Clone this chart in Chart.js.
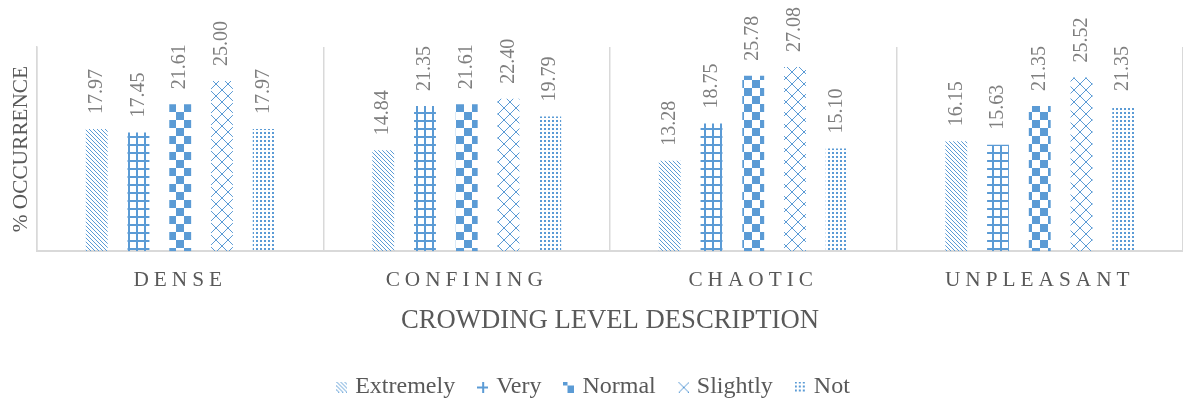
<!DOCTYPE html>
<html>
<head>
<meta charset="utf-8">
<title>Crowding level description</title>
<script src="https://cdn.jsdelivr.net/npm/chart.js@4.4.1/dist/chart.umd.min.js"></script>
<style>
  html, body { margin: 0; padding: 0; background: #ffffff; overflow: hidden; }
  canvas { display: block; }
</style>
</head>
<body>
<canvas id="chart" width="1183" height="402"></canvas>
<script>
// Categories on the x axis
const categories = ['DENSE', 'CONFINING', 'CHAOTIC', 'UNPLEASANT'];

// Series (crowding level), values in % occurrence per category
const seriesNames = ['Extremely', 'Very', 'Normal', 'Slightly', 'Not'];
const extremelyValues = [17.97, 14.84, 13.28, 16.15];
const veryValues      = [17.45, 21.35, 18.75, 15.63];
const normalValues    = [21.61, 21.61, 25.78, 21.35];
const slightlyValues  = [25.00, 22.40, 27.08, 25.52];
const notValues       = [17.97, 19.79, 15.10, 21.35];

// Axis text
const xAxisTitle = 'CROWDING LEVEL DESCRIPTION';
const yAxisTitle = '% OCCURRENCE';
const yMin = 0;
const yMax = 30;

const seriesValues = [extremelyValues, veryValues, normalValues, slightlyValues, notValues];

const SERIF = '"Liberation Serif", "Times New Roman", Times, serif';
const BLUE = '#5b9bd5';
const TEXT = '#595959';
const LABEL = '#7f7f7f';
const RULE = '#d9d9d9';

Chart.defaults.font.family = SERIF;

const canvas = document.getElementById('chart');
const ctx = canvas.getContext('2d');

// Repeating hatch tile
function hatchTile(w, h, paint) {
  const tile = document.createElement('canvas');
  tile.width = w;
  tile.height = h;
  const g = tile.getContext('2d');
  g.fillStyle = BLUE;
  paint(g, w, h);
  return tile;
}

const tiles = [
  // downward diagonal stripes
  hatchTile(4, 4, (g, w) => { for (let i = 0; i < w; i++) g.fillRect(i, i, 1, 1); }),
  // square grid
  hatchTile(8, 8, (g, w, h) => { g.fillRect(0, 0, w, 2); g.fillRect(0, 0, 2, h); }),
  // checkerboard
  hatchTile(16, 16, (g) => { g.fillRect(0, 0, 8, 8); g.fillRect(8, 8, 8, 8); }),
  // diamond lattice
  hatchTile(12, 12, (g, w) => {
    for (let i = 0; i < w; i++) { g.fillRect(i, i, 1, 1); g.fillRect(w - 1 - i, i, 1, 1); }
  }),
  // dotted grid
  hatchTile(4, 4, (g) => { g.fillRect(0, 0, 2, 2); })
];

const fills = tiles.map(t => ctx.createPattern(t, 'repeat'));

// Small legend swatches cut from each hatch
const swatchOffsets = [[0, 0], [3, 3], [4, 4], [0, 0], [0, 0]];
const swatches = tiles.map((t, i) => {
  const s = document.createElement('canvas');
  s.width = 11;
  s.height = 11;
  const g = s.getContext('2d');
  const p = g.createPattern(t, 'repeat');
  g.translate(-swatchOffsets[i][0], -swatchOffsets[i][1]);
  g.fillStyle = p;
  g.fillRect(swatchOffsets[i][0], swatchOffsets[i][1], 11, 11);
  return s;
});

// Rotated value labels above each bar
const valueLabels = {
  id: 'valueLabels',
  afterDatasetsDraw(chart) {
    const c = chart.ctx;
    c.save();
    c.font = '20px ' + SERIF;
    c.fillStyle = LABEL;
    c.textAlign = 'left';
    c.textBaseline = 'middle';
    chart.data.datasets.forEach((ds, di) => {
      chart.getDatasetMeta(di).data.forEach((bar, i) => {
        c.save();
        c.translate(bar.x, bar.y - 15);
        c.rotate(-Math.PI / 2);
        c.fillText(ds.data[i].toFixed(2), 0, 0);
        c.restore();
      });
    });
    c.restore();
  }
};

// Letter-spaced category labels on the x axis
const spacedTicks = {
  id: 'spacedTicks',
  beforeDraw(chart) {
    const s = chart.scales.x;
    if (s && !s._spaced) {
      const base = s.drawLabels;
      s.drawLabels = function (area) {
        this.ctx.save();
        this.ctx.letterSpacing = '5px';
        base.call(this, area);
        this.ctx.restore();
      };
      s._spaced = true;
    }
  }
};

new Chart(ctx, {
  type: 'bar',
  data: {
    labels: categories,
    datasets: seriesNames.map((name, i) => ({
      label: name,
      data: seriesValues[i],
      backgroundColor: fills[i],
      pointStyle: swatches[i],
      borderWidth: 0,
      categoryPercentage: 0.7285,
      barPercentage: 0.524
    }))
  },
  options: {
    responsive: false,
    animation: false,
    events: [],
    layout: { padding: { top: 47, left: 0, right: -7, bottom: -7 } },
    plugins: {
      legend: {
        position: 'bottom',
        labels: {
          font: { size: 24 },
          color: TEXT,
          usePointStyle: true,
          pointStyleWidth: 3,
          boxHeight: 11,
          padding: 26
        }
      },
      tooltip: { enabled: false }
    },
    scales: {
      x: {
        grid: { color: RULE, lineWidth: 1.5, drawTicks: false, offset: true },
        border: { color: RULE, width: 2 },
        ticks: { font: { size: 21.3 }, color: TEXT, padding: 16.7 },
        title: {
          display: true,
          text: xAxisTitle,
          font: { size: 26.7 },
          color: TEXT,
          padding: { top: -5.3, bottom: 12 }
        }
      },
      y: {
        min: yMin,
        max: yMax,
        grid: { display: false, drawTicks: false },
        border: { color: RULE, width: 1.5 },
        ticks: { display: false },
        title: {
          display: true,
          text: yAxisTitle,
          font: { size: 21.3 },
          color: TEXT,
          padding: { top: 8.2, bottom: 3.2 }
        }
      }
    }
  },
  plugins: [valueLabels, spacedTicks]
});
</script>
</body>
</html>
